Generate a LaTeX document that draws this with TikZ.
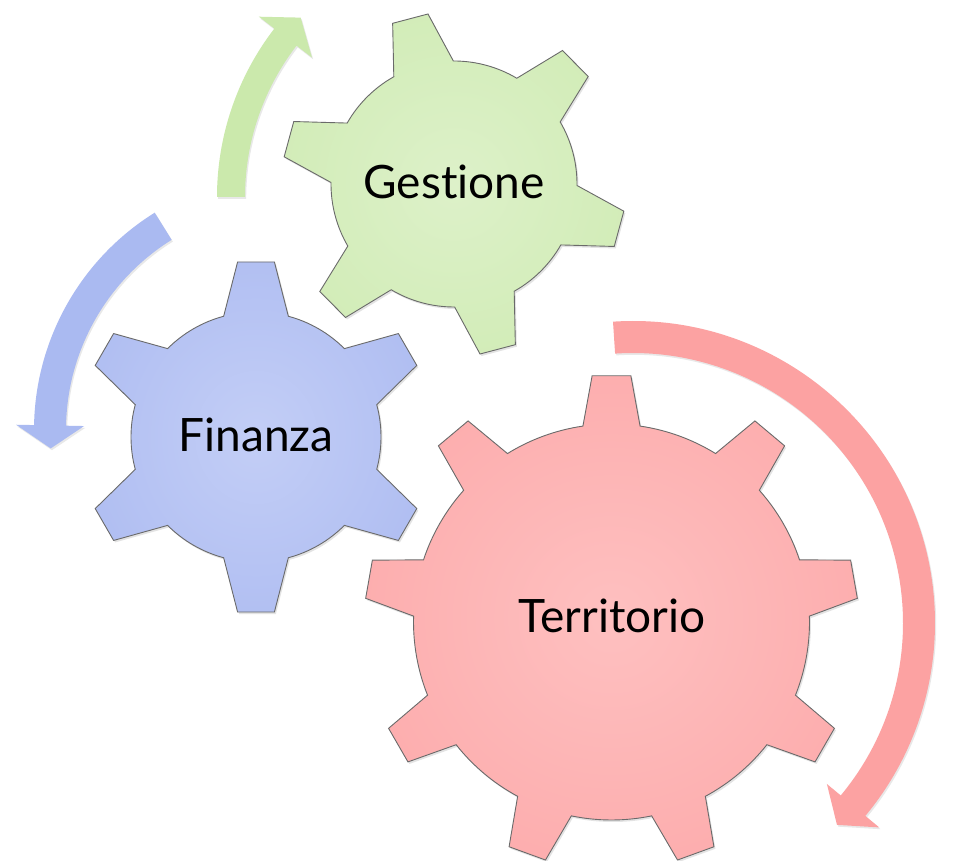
\documentclass[tikz,border=0pt]{standalone}
\usepackage{fontspec}
\setmainfont{Lato}[Ligatures={NoCommon,NoDiscretionary,NoRare}]
\usetikzlibrary{shadows}
\definecolor{gGin}{HTML}{DDF1C9}
\definecolor{gGout}{HTML}{CDEAB0}
\definecolor{gBin}{HTML}{C3CEF6}
\definecolor{gBout}{HTML}{A9B8F0}
\definecolor{gRin}{HTML}{FEC0C0}
\definecolor{gRout}{HTML}{FCA5A6}
\definecolor{aG}{HTML}{CBE9AC}
\definecolor{aB}{HTML}{AABAF1}
\definecolor{aR}{HTML}{FCA2A2}
\definecolor{gearline}{HTML}{6A6A6A}
\pgfdeclareradialshading{gshadeG}{\pgfpoint{0bp}{0bp}}{color(0bp)=(gGin); color(38bp)=(gGout); color(50bp)=(gGout)}
\pgfdeclareradialshading{gshadeB}{\pgfpoint{0bp}{0bp}}{color(0bp)=(gBin); color(38bp)=(gBout); color(50bp)=(gBout)}
\pgfdeclareradialshading{gshadeR}{\pgfpoint{0bp}{0bp}}{color(0bp)=(gRin); color(38bp)=(gRout); color(50bp)=(gRout)}
\tikzset{
  gearbase/.style={draw=gearline, line width=0.9pt, line join=miter,
    drop shadow={opacity=0.22, shadow xshift=1.5pt, shadow yshift=-2pt}},
  gearG/.style={gearbase, shading=gshadeG},
  gearB/.style={gearbase, shading=gshadeB},
  gearR/.style={gearbase, shading=gshadeR},
  arrowbase/.style={drop shadow={opacity=0.18, shadow xshift=1.2pt, shadow yshift=-1.8pt}},
  arrowG/.style={arrowbase, fill=aG},
  arrowB/.style={arrowbase, fill=aB},
  arrowR/.style={arrowbase, fill=aR},
  label/.style={font=\fontsize{46}{50}\selectfont, text=black, inner sep=0pt}
}
% #1 style, #2 cx, #3 cy, #4 R, #5 r, #6 n, #7 a0, #8 outer half angle, #9 base half angle
\newcommand\drawgear[9]{%
  \pgfmathsetmacro\gstep{360/#6}%
  \pgfmathtruncatemacro\glast{#6-1}%
  \path[#1, shift={(#2,#3)}] ({#7-#9}:#5)
    \foreach \gi in {0,...,\glast}{
      -- ({#7+\gi*\gstep-#8}:#4) -- ({#7+\gi*\gstep+#8}:#4) -- ({#7+\gi*\gstep+#9}:#5)
      arc[start angle={#7+\gi*\gstep+#9}, end angle={#7+(\gi+1)*\gstep-#9}, radius=#5]
    } -- cycle;
}
% #1 style, #2 center, #3 R, #4 half width, #5 start angle, #6 end angle, #7 head half width, #8 tip
\newcommand\drawarrow[8]{%
  \path[#1, shift={#2}] (#5:{#3+#4})
    arc[start angle=#5, end angle=#6, radius={#3+#4}]
    -- (#6:{#3+#7}) -- #8 -- (#6:{#3-#7}) -- (#6:{#3-#4})
    arc[start angle=#6, end angle=#5, radius={#3-#4}] -- cycle;
}
\begin{document}
\begin{tikzpicture}[x=1pt,y=1pt]
\useasboundingbox (0,0) rectangle (953,860);
\fill[white] (0,0) rectangle (953,860);
% arrows
\drawarrow{arrowG}{(493,663)}{262}{14}{180}{142.4}{33.5}{(137.0:263)}
\drawarrow{arrowB}{(290,430)}{240}{16}{121.9}{178.9}{34}{(184.4:240)}
\drawarrow{arrowR}{(633,237)}{286}{16}{93.8}{-39.7}{34}{(-44.7:287)}
% gears
\drawgear{gearG}{454}{676}{172}{123}{6}{104.8}{6.1}{14.5}
\drawgear{gearB}{256}{423}{176}{125}{6}{90}{6}{15}
\drawgear{gearR}{611.5}{238}{247}{198}{9}{90}{4.5}{8.3}
% labels
\node[label] (gestione) at (454,678) {Gestione};
\node[label] (finanza) at (256,425) {Finanza};
\node[label] (territorio) at (612,244) {Territorio};
\end{tikzpicture}
\end{document}
